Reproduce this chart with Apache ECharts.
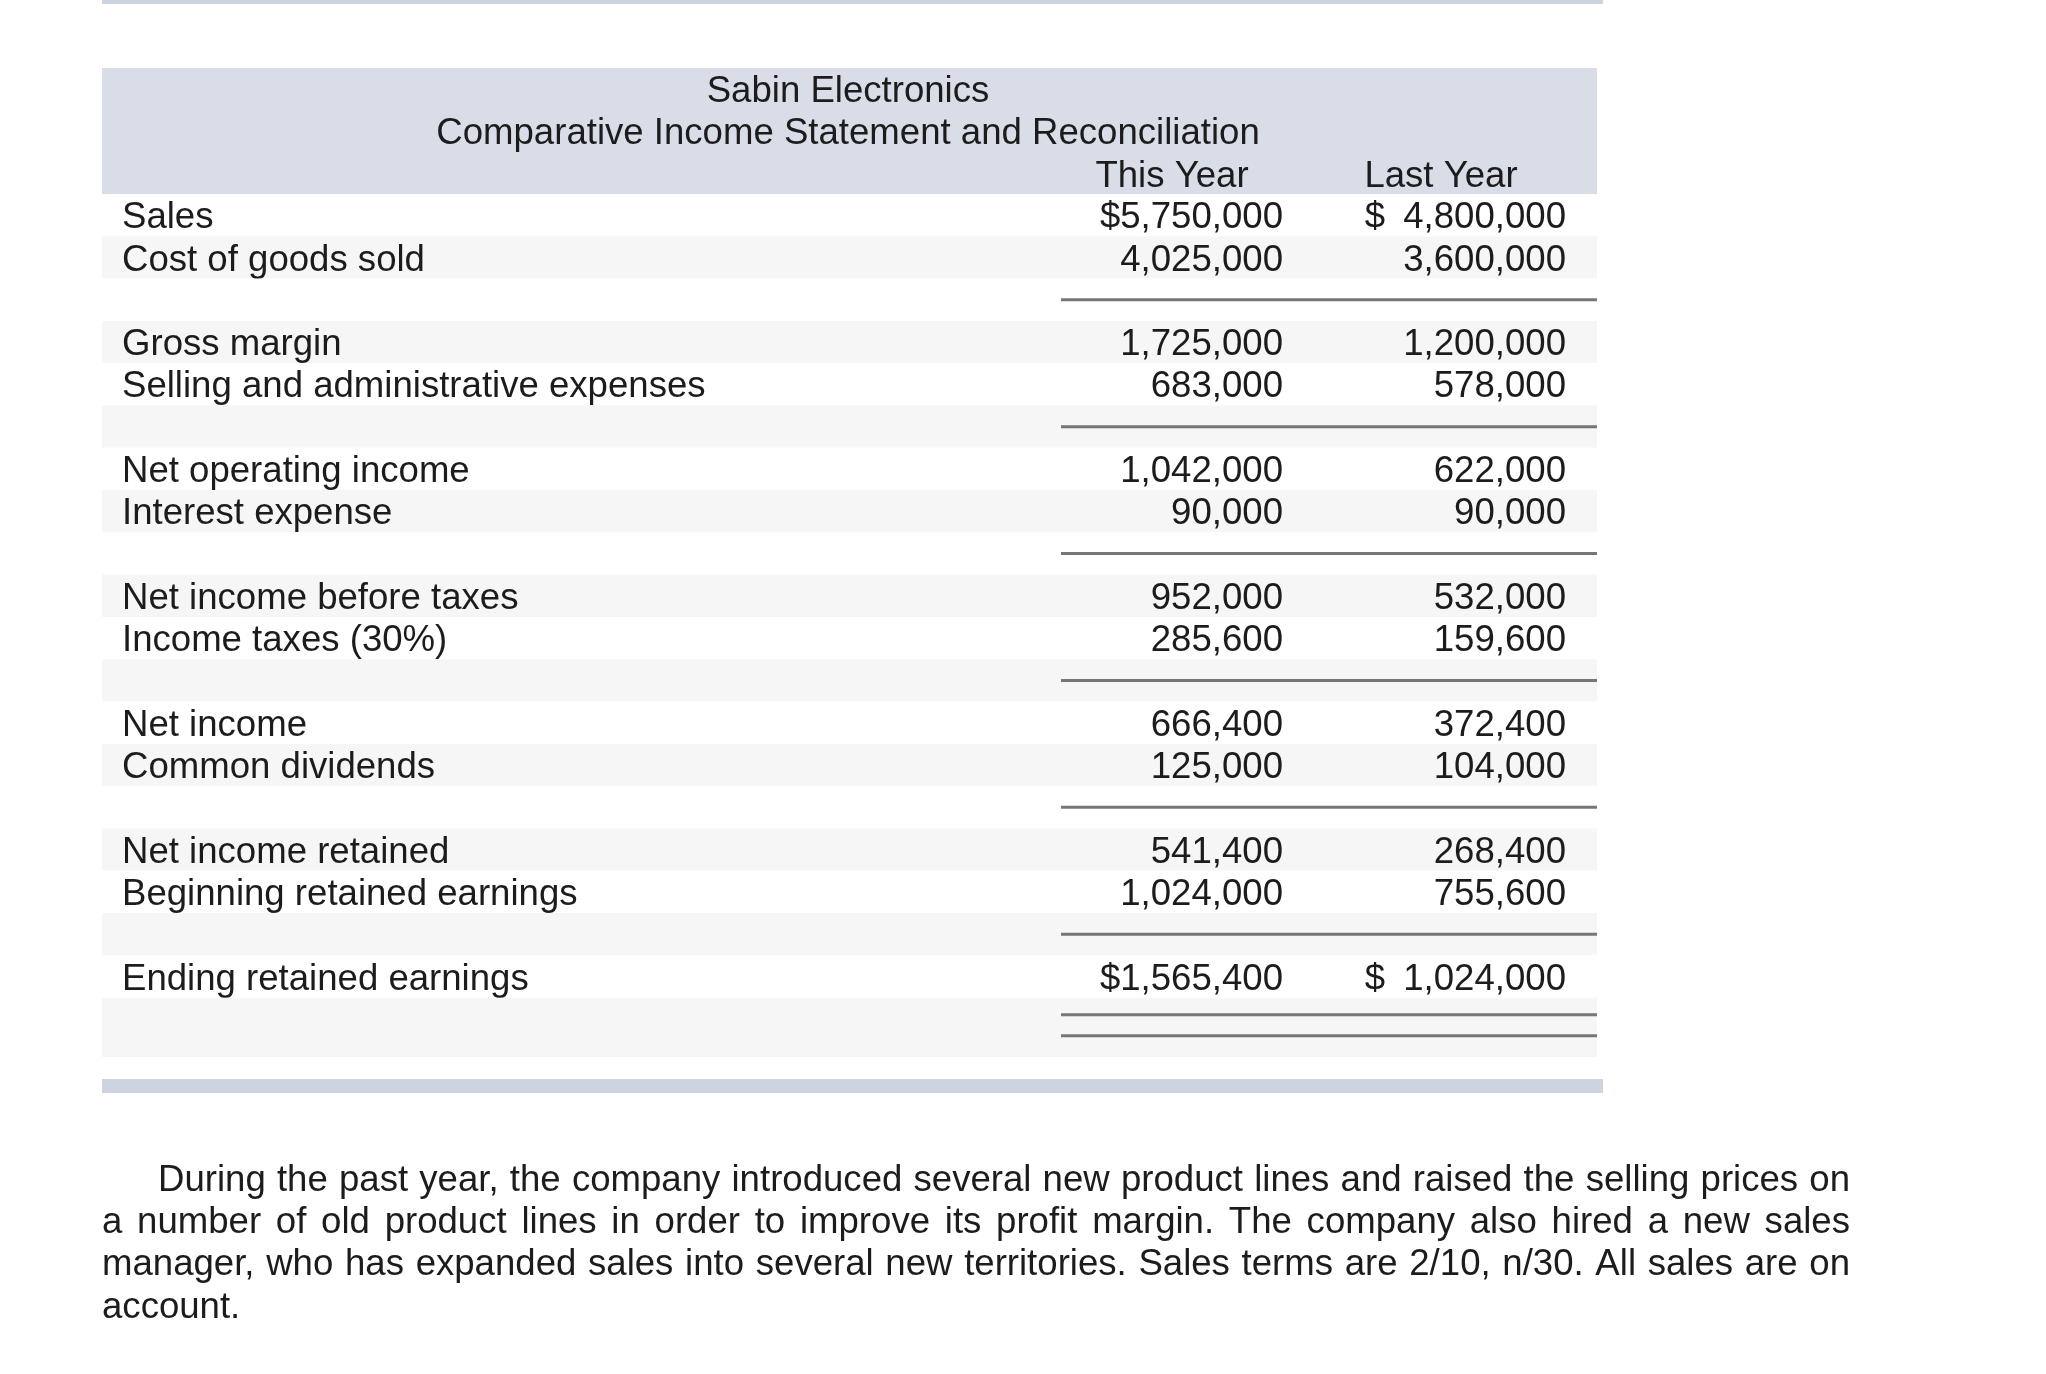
<!DOCTYPE html>
<html>
<head>
<meta charset="utf-8">
<script src="https://cdn.jsdelivr.net/npm/echarts@6/dist/echarts.min.js"></script>
<style>
html,body{margin:0;padding:0;background:#fff;}
#chart{width:2046px;height:1374px;}
</style>
</head>
<body>
<div id="chart"></div>
<script>
// ---- Data ----
const companyName = 'Sabin Electronics';
const statementTitle = 'Comparative Income Statement and Reconciliation';
const columnHeaders = ['This Year', 'Last Year'];
const rowLabels = [
  'Sales', 'Cost of goods sold', '',
  'Gross margin', 'Selling and administrative expenses', '',
  'Net operating income', 'Interest expense', '',
  'Net income before taxes', 'Income taxes (30%)', '',
  'Net income', 'Common dividends', '',
  'Net income retained', 'Beginning retained earnings', '',
  'Ending retained earnings', ''
];
const thisYear = [
  5750000, 4025000, null,
  1725000, 683000, null,
  1042000, 90000, null,
  952000, 285600, null,
  666400, 125000, null,
  541400, 1024000, null,
  1565400, null
];
const lastYear = [
  4800000, 3600000, null,
  1200000, 578000, null,
  622000, 90000, null,
  532000, 159600, null,
  372400, 104000, null,
  268400, 755600, null,
  1024000, null
];
const dollarRows = [0, 18];
const underlineRows = [2, 5, 8, 11, 14, 17];
const doubleUnderlineRows = [19];
const paragraphLines = [
  'During the past year, the company introduced several new product lines and raised the selling prices on',
  'a number of old product lines in order to improve its profit margin. The company also hired a new sales',
  'manager, who has expanded sales into several new territories. Sales terms are 2/10, n/30. All sales are on',
  'account.'
];

// ---- Styles ----
const FONT = '"Liberation Sans", Arial, Helvetica, sans-serif';
const FS = 36.6;
const TXT = '#1c1c1c';
const ROW_H = 42.3;
const TOP = 194;
const DY = 3; // text baseline nudge
const fmt = n => n.toLocaleString('en-US');

function cellText(arr, i, col) {
  const v = arr[i];
  if (v == null) return '';
  if (dollarRows.indexOf(i) >= 0) return (col === 0 ? '$' : '$\u2002') + fmt(v);
  return fmt(v);
}

const chart = echarts.init(document.getElementById('chart'), null, {renderer: 'canvas'});

// Paragraph (justified) layout
const ctx = document.createElement('canvas').getContext('2d');
ctx.font = FS + 'px ' + FONT;
const paraLeft = 102, paraRight = 1850, indent = 56;
const paraY = [1178, 1220, 1262, 1305];
const paraGraphics = [];
paragraphLines.forEach((line, li) => {
  const words = line.split(' ');
  const x0 = paraLeft + (li === 0 ? indent : 0);
  const last = li === paragraphLines.length - 1;
  const widths = words.map(w => ctx.measureText(w).width);
  const total = widths.reduce((a, b) => a + b, 0);
  const gap = last ? ctx.measureText(' ').width : (paraRight - x0 - total) / (words.length - 1);
  let x = x0;
  words.forEach((w, wi) => {
    paraGraphics.push({
      type: 'text', x: x, y: paraY[li] + DY,
      style: {text: w, font: FS + 'px ' + FONT, fill: TXT, align: 'left', verticalAlign: 'middle'}
    });
    x += widths[wi] + gap;
  });
});

const option = {
  animation: false,
  backgroundColor: '#ffffff',
  grid: {left: 0, right: 0, top: TOP, height: ROW_H * 20},
  xAxis: {type: 'value', min: 0, max: 2046, show: false},
  yAxis: {type: 'value', min: 0, max: 20, inverse: true, show: false},
  graphic: [
    {type: 'rect', shape: {x: 102, y: 0, width: 1501, height: 4}, style: {fill: '#cdd4e0'}},
    {type: 'rect', shape: {x: 102, y: 68, width: 1495, height: 126}, style: {fill: '#d9dde7'}},
    {type: 'text', x: 848, y: 89 + DY, style: {text: companyName, font: FS + 'px ' + FONT, fill: TXT, align: 'center', verticalAlign: 'middle'}},
    {type: 'text', x: 848, y: 131 + DY, style: {text: statementTitle, font: FS + 'px ' + FONT, fill: TXT, align: 'center', verticalAlign: 'middle'}},
    {type: 'text', x: 1172, y: 174 + DY, style: {text: columnHeaders[0], font: FS + 'px ' + FONT, fill: TXT, align: 'center', verticalAlign: 'middle'}},
    {type: 'text', x: 1441, y: 174 + DY, style: {text: columnHeaders[1], font: FS + 'px ' + FONT, fill: TXT, align: 'center', verticalAlign: 'middle'}},
    {type: 'rect', shape: {x: 102, y: 1079, width: 1501, height: 14}, style: {fill: '#cdd4e0'}}
  ].concat(paraGraphics),
  series: [{
    type: 'custom',
    clip: false,
    silent: true,
    encode: {x: 0, y: 1},
    data: rowLabels.map((l, i) => [0, i]),
    renderItem: function (params, api) {
      const i = api.value(1);
      const top = api.coord([0, i])[1];
      const isLast = i === rowLabels.length - 1;
      const bottom = api.coord([0, i + 1])[1] + (isLast ? 17 : 0);
      const h = bottom - top;
      const mid = top + ROW_H / 2;
      const tmid = mid + DY;
      const left = api.coord([102, 0])[0];
      const right = api.coord([1597, 0])[0];
      const children = [{
        type: 'rect',
        shape: {x: left, y: top, width: right - left, height: h},
        style: {fill: i % 2 === 0 ? '#ffffff' : '#f6f6f6'}
      }];
      if (rowLabels[i]) {
        children.push({type: 'text', x: api.coord([122, 0])[0], y: tmid,
          style: {text: rowLabels[i], font: FS + 'px ' + FONT, fill: TXT, align: 'left', verticalAlign: 'middle'}});
      }
      const t1 = cellText(thisYear, i, 0), t2 = cellText(lastYear, i, 1);
      if (t1) children.push({type: 'text', x: api.coord([1283, 0])[0], y: tmid,
        style: {text: t1, font: FS + 'px ' + FONT, fill: TXT, align: 'right', verticalAlign: 'middle'}});
      if (t2) children.push({type: 'text', x: api.coord([1566, 0])[0], y: tmid,
        style: {text: t2, font: FS + 'px ' + FONT, fill: TXT, align: 'right', verticalAlign: 'middle'}});
      const lx1 = api.coord([1061, 0])[0];
      const lineStyle = {stroke: '#767676', lineWidth: 3};
      if (underlineRows.indexOf(i) >= 0) {
        children.push({type: 'line', shape: {x1: lx1, y1: mid, x2: right, y2: mid}, style: lineStyle});
      }
      if (doubleUnderlineRows.indexOf(i) >= 0) {
        children.push({type: 'line', shape: {x1: lx1, y1: top + 17, x2: right, y2: top + 17}, style: lineStyle});
        children.push({type: 'line', shape: {x1: lx1, y1: top + 38, x2: right, y2: top + 38}, style: lineStyle});
      }
      return {type: 'group', children: children};
    }
  }]
};
chart.setOption(option);
</script>
</body>
</html>
